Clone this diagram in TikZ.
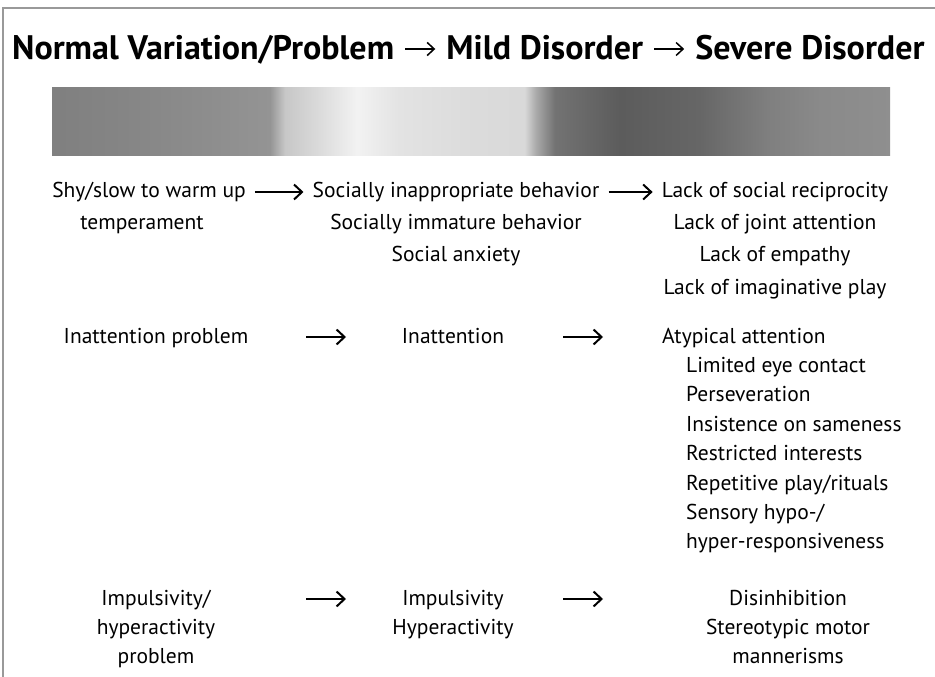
\documentclass[tikz,border=0pt]{standalone}
\usepackage{fontspec}
\setmainfont{PT Sans}
\usetikzlibrary{positioning,arrows.meta}

\colorlet{bandA}{black!50}
\colorlet{bandB}{black!48}
\colorlet{bandC}{black!45}
\colorlet{bandD}{black!42}
\colorlet{bandE}{black!22}
\colorlet{bandF}{black!14}
\colorlet{bandG}{black!5}
\colorlet{bandH}{black!11}
\colorlet{bandI}{black!15}
\colorlet{bandJ}{black!34}
\colorlet{bandK}{black!55}
\colorlet{bandL}{black!64}
\colorlet{bandM}{black!60}
\colorlet{bandN}{black!46}
\colorlet{bandO}{black!44}
\pgfdeclarehorizontalshading{severity}{100bp}{color(0bp)=(bandA); color(25bp)=(bandA);
  color(29bp)=(bandB); color(33.8bp)=(bandC); color(38bp)=(bandD); color(38.9bp)=(bandE);
  color(41bp)=(bandF); color(43.2bp)=(bandG); color(45.7bp)=(bandH); color(50bp)=(bandF);
  color(53.2bp)=(bandI); color(53.9bp)=(bandJ); color(55bp)=(bandK); color(58.9bp)=(bandL);
  color(63.6bp)=(bandM); color(67.8bp)=(bandA); color(70.8bp)=(bandN); color(75bp)=(bandO);
  color(100bp)=(bandO)}

\tikzset{
  ttl/.style={font=\bfseries\fontsize{34}{40}\selectfont, inner sep=0pt, text height=24pt, text depth=8pt},
  lbl/.style={font=\fontsize{21.5}{26}\selectfont, inner sep=0pt, text height=14pt, text depth=4pt},
  arr/.style={-{Straight Barb[length=8pt,width=15pt]}, line width=2pt},
  tarr/.style={-{Straight Barb[length=7pt,width=13pt]}, line width=1.5pt, shorten <=11pt, shorten >=11pt},
  frame/.style={draw=black!40, line width=2pt},
}

\begin{document}
\begin{tikzpicture}[x=1pt,y=1pt]
    \useasboundingbox (0,0) rectangle (935,-677);
    \draw[frame] (3,-677) -- (3,-8) -- (935,-8);

    % heading
    \node[ttl, anchor=base west] (normal) at (12,-60) {Normal Variation/Problem};
    \node[ttl, right=52pt of normal] (mild) {Mild Disorder};
    \node[ttl, right=52pt of mild] (severe) {Severe Disorder};
    \draw[tarr] ([yshift=3pt]normal.east) -- ([yshift=3pt]mild.west);
    \draw[tarr] ([yshift=3pt]mild.east) -- ([yshift=3pt]severe.west);

    \shade[shading=severity] (52,-88) rectangle (890,-155);

    % social row
    \node[lbl] (shy) at (149,-192) {Shy/slow to warm up};
    \node[lbl, below=14pt of shy, xshift=-7pt] (temper) {temperament};

    \node[lbl] (inapp) at (456,-192) {Socially inappropriate behavior};
    \node[lbl, below=14pt of inapp] (immat) {Socially immature behavior};
    \node[lbl, below=14pt of immat] (anx) {Social anxiety};

    \node[lbl] (recip) at (775,-192) {Lack of social reciprocity};
    \node[lbl, below=14pt of recip] (joint) {Lack of joint attention};
    \node[lbl, below=14pt of joint] (empathy) {Lack of empathy};
    \node[lbl, below=14pt of empathy] (imagin) {Lack of imaginative play};

    \draw[arr, shorten <=9pt, shorten >=9pt] (shy) -- (inapp);
    \draw[arr, shorten <=9pt, shorten >=9pt] (inapp) -- (recip);

    % attention row
    \node[lbl] (inprob) at (156,-338) {Inattention problem};
    \node[lbl] (inatt) at (453,-338) {Inattention};
    \node[lbl, anchor=west] (atyp) at (662,-338) {Atypical attention};
    \node[lbl, anchor=north west] (eye) at ([xshift=24pt,yshift=-11pt]atyp.south west) {Limited eye contact};
    \node[lbl, below=11pt of eye.south west, anchor=north west] (persev) {Perseveration};
    \node[lbl, below=11pt of persev.south west, anchor=north west] (same) {Insistence on sameness};
    \node[lbl, below=11pt of same.south west, anchor=north west] (restr) {Restricted interests};
    \node[lbl, below=11pt of restr.south west, anchor=north west] (rituals) {Repetitive play/rituals};
    \node[lbl, below=11pt of rituals.south west, anchor=north west] (sens) {Sensory hypo-/};
    \node[lbl, below=11pt of sens.south west, anchor=north west] (resp) {hyper-responsiveness};

    \coordinate (att1) at (306,-337);
    \coordinate (att2) at (346,-337);
    \coordinate (att3) at (563,-337);
    \coordinate (att4) at (603,-337);
    \draw[arr] (att1) -- (att2);
    \draw[arr] (att3) -- (att4);

    % impulsivity row
    \node[lbl] (impprob) at (156,-600) {Impulsivity/};
    \node[lbl, below=11pt of impprob] (hypprob) {hyperactivity};
    \node[lbl, below=11pt of hypprob] (prob) {problem};

    \node[lbl] (imp) at (453,-600) {Impulsivity};
    \node[lbl, below=11pt of imp] (hyp) {Hyperactivity};

    \node[lbl] (disinh) at (788,-600) {Disinhibition};
    \node[lbl, below=11pt of disinh] (stereo) {Stereotypic motor};
    \node[lbl, below=11pt of stereo] (manner) {mannerisms};

    \coordinate (imp1) at (306,-599);
    \coordinate (imp2) at (346,-599);
    \coordinate (imp3) at (563,-599);
    \coordinate (imp4) at (603,-599);
    \draw[arr] (imp1) -- (imp2);
    \draw[arr] (imp3) -- (imp4);
\end{tikzpicture}
\end{document}
